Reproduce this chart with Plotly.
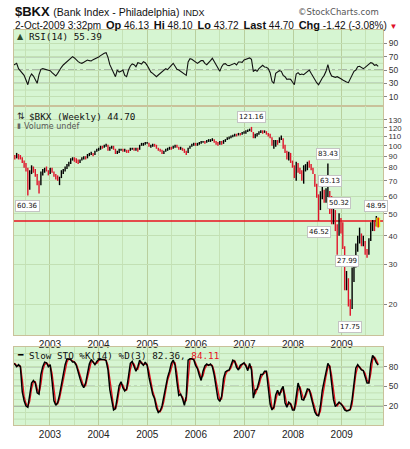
import math
import plotly.graph_objects as go
import pandas as pd

# ---------------- data (biweekly) ----------------
dates = pd.date_range(end="2009-10-02", periods=197, freq="14D")

price_close = [
    90, 89, 91, 90, 89, 85, 83, 80, 66, 76,
    80, 77, 75, 69, 67, 75, 77, 79, 78, 76,
    79, 77, 74, 73, 72, 72, 76, 78, 80, 82,
    83, 87, 88, 87, 86, 85, 86, 88, 89, 88,
    91, 92, 92, 91, 94, 96, 97, 99, 98, 100,
    101, 96, 98, 99, 97, 93, 94, 96, 96, 95,
    96, 95, 94, 97, 97, 96, 97, 96, 100, 102,
    102, 103, 103, 100, 100, 101, 100, 98, 96, 95,
    93, 94, 96, 97, 98, 97, 99, 100, 99, 97,
    98, 96, 94, 93, 97, 99, 101, 102, 101, 102,
    103, 104, 104, 103, 105, 106, 106, 107, 104, 103,
    102, 104, 103, 105, 106, 108, 109, 110, 111, 112,
    111, 113, 112, 114, 115, 116, 117, 118, 117, 110,
    112, 113, 115, 116, 115, 116, 114, 111, 110, 101,
    103, 105, 103, 108, 109, 99, 95, 90, 92, 85,
    82, 74, 82, 78, 77, 72, 80, 80, 83, 82,
    80, 76, 68, 60, 54, 60, 64, 58, 62, 68,
    57, 50, 52, 44, 42, 46, 43, 36, 26, 27,
    20, 19, 27, 30, 35, 38, 39, 37, 38, 34,
    33, 38, 45, 46, 43, 48, 44.70]

price_high = [
    92, 91, 93, 92, 91, 89, 86, 84, 80, 78,
    82, 81, 79, 75, 70, 77, 79, 80, 81, 78,
    80, 80, 77, 75, 74, 73, 78, 79, 81, 83,
    85, 88, 89, 89, 88, 87, 87, 89, 90, 90,
    92, 93, 94, 93, 95, 97, 98, 100, 100, 101,
    102, 101, 99, 100, 100, 97, 95, 97, 97, 97,
    97, 96, 96, 98, 98, 98, 98, 98, 101, 103,
    103, 104, 104, 103, 101, 102, 102, 101, 98, 97,
    96, 95, 97, 98, 99, 99, 100, 101, 101, 99,
    99, 98, 97, 95, 98, 100, 102, 103, 103, 103,
    104, 105, 105, 105, 106, 107, 107, 108, 107, 105,
    104, 105, 105, 106, 107, 109, 110, 111, 112, 113,
    113, 114, 114, 115, 116, 117, 118, 119, 121.16, 115,
    113, 114, 116, 117, 117, 117, 116, 114, 113, 109,
    106, 106, 106, 109, 111, 108, 101, 95, 94, 93,
    86, 82, 85, 84, 80, 78, 82, 83, 85, 86,
    83, 80, 75, 68, 61, 63, 67, 64, 65, 83.43,
    63.13, 60, 56, 52, 45, 50.32, 48, 46, 36, 27.99,
    26, 21, 29, 32, 37, 40, 43.5, 41, 40, 38,
    35, 39, 46, 47, 47, 48.95, 48.10]

price_low = [
    88, 87, 88, 87, 87, 84, 80, 77, 60.36, 64,
    75, 76, 73, 67, 61.5, 67, 74, 76, 77, 74,
    75, 76, 73, 71, 70, 67, 72, 75, 77, 79,
    81, 83, 86, 85, 84, 83, 84, 86, 87, 87,
    88, 90, 91, 90, 91, 94, 95, 96, 97, 98,
    99, 95, 95, 97, 96, 92, 92, 93, 95, 94,
    94, 93, 93, 95, 96, 95, 95, 94, 96, 100,
    100, 101, 102, 99, 98, 99, 99, 97, 95, 94,
    92, 92, 94, 95, 96, 96, 97, 98, 98, 96,
    96, 95, 93, 91, 93, 97, 99, 100, 100, 100,
    101, 102, 103, 102, 103, 104, 104, 105, 103, 101,
    100, 101, 101, 102, 104, 106, 107, 108, 109, 110,
    110, 111, 111, 112, 113, 113, 115, 116, 115, 108,
    108, 110, 112, 114, 113, 114, 112, 110, 108, 100,
    97, 99, 101, 103, 106, 97, 93, 87, 86, 84,
    80, 72, 70, 76, 75, 70, 68, 77, 78, 80,
    78, 75, 66, 59, 46.52, 52, 58, 56, 56, 58,
    50, 45, 45, 42, 33, 40, 41, 35, 23, 23,
    19.5, 17.75, 19, 25, 29, 34, 37, 36, 36, 33,
    32, 33, 38, 42, 42, 44, 43.72]

rsi = [
    57, 58, 60, 52, 49, 46, 42, 35, 28, 39,
    44, 41, 35, 30, 43, 51, 52, 51, 50, 50,
    49, 46, 43, 41, 45, 50, 54, 57.5, 60, 62.5,
    65, 68, 70, 68, 65, 62.5, 61, 60, 61.5, 63,
    65, 64, 63.5, 65.5, 66.5, 67.5, 69.5, 71.5, 74, 75,
    76, 69, 58, 52, 46, 40, 50, 47, 48, 50,
    42, 40, 50, 56, 59, 58, 55, 61, 60, 59,
    62.5, 61, 57, 52, 47, 45, 43, 40, 42.5, 45,
    48, 51, 52, 50.5, 53, 57, 60, 55, 51, 50,
    48, 46, 43, 42, 62, 67, 66, 63.5, 61.5, 60,
    62, 64, 64, 60, 58, 60.5, 64, 67.5, 62, 56.5,
    52, 48, 55, 59, 59.5, 57, 56.5, 57.5, 59.5, 60,
    57.5, 62, 62, 61.5, 65, 66, 67.5, 68, 66, 48,
    50, 48, 52, 55, 57, 54.5, 54, 52, 46, 33,
    30, 45, 47, 49, 48, 42, 40, 36, 36.5, 36,
    32, 28, 44, 46, 43, 44, 43, 45, 48, 50,
    45, 40, 35, 31, 28, 34, 38, 42, 48, 58,
    47, 41, 40, 39, 40, 39, 37, 35, 33, 32,
    31, 37, 44, 48, 50, 55, 55.5, 54, 52, 54,
    56, 59, 61, 60, 57, 58, 55.39]

sto_k = [
    85, 84, 80, 83, 80, 42, 28, 20, 18, 37,
    55, 59, 55, 40, 38, 68, 80, 87, 86, 80,
    83, 58, 28, 21, 25, 37, 53, 70, 83, 92,
    92, 91, 87, 87, 82, 70, 62, 53, 48, 55,
    69, 84, 91, 86, 83, 88, 91, 91, 91, 91,
    89, 75, 45, 27, 14, 16, 35, 51, 57, 48,
    43, 46, 65, 85, 88, 81, 73, 80, 90, 85,
    82, 87, 82, 64, 48, 38, 31, 17, 10, 12.5,
    20, 35, 55, 64, 73, 85, 90, 82, 57, 36,
    38, 31, 21, 35, 90, 92, 92, 91, 82, 77,
    67, 59, 73, 81, 84, 82, 84, 80, 67, 48,
    31, 27, 35, 62, 72, 74, 75, 82, 90, 88,
    79, 75, 82, 84, 86, 81, 74, 85, 75, 32,
    44, 46, 56, 68, 68, 73, 73, 50, 23, 14,
    18, 37, 44, 36, 45, 50, 25, 18, 26, 23,
    14, 14, 32, 55, 46, 30, 29, 39, 46, 45,
    33, 21, 11, 6, 5, 20, 44, 58, 72, 85,
    80, 55, 30, 19, 22, 26, 23, 19.5, 14, 12.5,
    13, 15, 30, 58, 78, 83, 78, 75, 74, 66,
    55, 55, 84, 97, 93, 86, 82.36]

sto_d = [
    84, 85, 82, 81, 81, 61, 35, 24, 19, 27,
    46, 57, 57, 47, 39, 53, 74, 83, 86, 83,
    81, 70, 43, 24, 23, 31, 45, 61, 76, 87,
    92, 91, 89, 87, 84, 76, 66, 57, 50, 51,
    62, 76, 87, 88, 84, 85, 89, 91, 91, 91,
    90, 82, 60, 36, 20, 15, 25, 43, 54, 52,
    45, 44, 55, 75, 86, 84, 77, 76, 85, 87,
    83, 84, 84, 73, 56, 43, 34, 24, 13, 11,
    16, 27, 45, 59, 68, 79, 87, 86, 70, 46,
    37, 34, 26, 28, 62, 91, 92, 91, 86, 80,
    72, 63, 66, 77, 82, 83, 83, 82, 73, 57,
    40, 29, 31, 48, 67, 73, 74, 78, 86, 89,
    83, 77, 78, 83, 85, 83, 77, 79, 80, 53,
    38, 45, 51, 62, 68, 70, 73, 61, 36, 18,
    16, 27, 40, 40, 41, 47, 37, 21, 22, 24,
    18, 14, 23, 43, 50, 38, 30, 34, 42, 45,
    39, 27, 16, 8, 5.5, 12, 32, 51, 65, 78,
    82, 67, 42, 24, 20, 24, 24, 21, 17, 13,
    13, 14, 22, 44, 68, 80, 80, 76, 74, 70,
    60, 55, 69, 90, 95, 90, 84.11]

swing_points = [(8, "low"), (128, "high"), (164, "low"), (169, "high"),
                (170, "high"), (175, "high"), (179, "high"), (181, "low"),
                (195, "high")]
support_level = 46.52

price_ticks = [20, 30, 40, 50, 60, 70, 80, 90, 100, 110, 120, 130]
rsi_ticks = [10, 30, 50, 70, 90]
rsi_grid = [20, 40, 60, 80]
sto_ticks = [20, 50, 80]
sto_grid = [0, 10, 30, 40, 60, 70, 90, 100]

# ---------------- style ----------------
W, H = 410, 449
BG = "#d6f5d2"
GRID_YEAR = "#b9cf9e"
GRID_HALF = "#c5e2b6"
GRID_H = "#c2e0b4"
BORDER = "#c9c19a"
UP = "#000000"
DOWN = "#e0142a"
X_RANGE = ["2002-04-06", "2009-11-07"]
XD = [14 / W, 383 / W]


def ydom(top_px, bot_px):
    return [1 - bot_px / H, 1 - top_px / H]


def px_x(v):
    return v / W


def px_y(v):
    return 1 - v / H


fig = go.Figure()

for yref, vals in [("y", rsi_grid), ("y3", sto_grid)]:
    xr = "x domain" if yref == "y" else "x3 domain"
    for v in vals:
        fig.add_shape(type="line", xref=xr, yref=yref, x0=0, x1=1, y0=v, y1=v,
                      line=dict(color=GRID_H, width=1), layer="below")

for yref, lvl, dash in [("y", 70, "solid"), ("y", 30, "solid"), ("y", 50, "dashdot"),
                        ("y3", 80, "solid"), ("y3", 20, "solid"), ("y3", 50, "dashdot")]:
    xr = "x domain" if yref == "y" else "x3 domain"
    fig.add_shape(type="line", xref=xr, yref=yref, x0=0, x1=1, y0=lvl, y1=lvl,
                  line=dict(color="#7d7d7d", width=1.2, dash=dash), layer="below")

# ---- RSI panel ----
fig.add_trace(go.Scatter(x=dates, y=rsi, mode="lines",
                         line=dict(color="#111111", width=1.1),
                         xaxis="x", yaxis="y", hoverinfo="skip"))

# ---- price panel ----
up_x, up_y, dn_x, dn_y = [], [], [], []
for i in range(len(dates)):
    up = i == 0 or price_close[i] >= price_close[i - 1]
    bx, by = (up_x, up_y) if up else (dn_x, dn_y)
    bx += [dates[i], dates[i], None]
    by += [price_low[i], price_high[i], None]

fig.add_trace(go.Scatter(x=[X_RANGE[0], X_RANGE[1]], y=[support_level, support_level],
                         mode="lines", line=dict(color="#e8101e", width=1.3),
                         xaxis="x2", yaxis="y2", hoverinfo="skip"))
fig.add_trace(go.Scatter(x=dn_x, y=dn_y, mode="lines", line=dict(color=DOWN, width=1.4),
                         xaxis="x2", yaxis="y2", hoverinfo="skip", connectgaps=False))
fig.add_trace(go.Scatter(x=up_x, y=up_y, mode="lines", line=dict(color=UP, width=1.4),
                         xaxis="x2", yaxis="y2", hoverinfo="skip", connectgaps=False))
last = len(dates) - 1
fig.add_trace(go.Scatter(x=[dates[last], dates[last]], y=[price_low[last], price_high[last]],
                         mode="lines", line=dict(color="#f5e400", width=4),
                         xaxis="x2", yaxis="y2", hoverinfo="skip"))
fig.add_trace(go.Scatter(x=[dates[last], dates[last]], y=[price_low[last], price_high[last]],
                         mode="lines", line=dict(color=DOWN, width=1.4),
                         xaxis="x2", yaxis="y2", hoverinfo="skip"))

# ---- stochastic panel ----
fig.add_trace(go.Scatter(x=dates, y=sto_d, mode="lines", line=dict(color="#e8101e", width=1.3),
                         xaxis="x3", yaxis="y3", hoverinfo="skip"))
fig.add_trace(go.Scatter(x=dates, y=sto_k, mode="lines", line=dict(color="#000000", width=1.5),
                         xaxis="x3", yaxis="y3", hoverinfo="skip"))

common_x = dict(type="date", range=X_RANGE, domain=XD, tick0="2003-01-01", dtick="M12",
                tickformat="%Y", showgrid=True, gridcolor=GRID_YEAR, gridwidth=1,
                minor=dict(tick0="2002-07-01", dtick="M6", showgrid=True,
                           gridcolor=GRID_HALF, gridwidth=1),
                showline=True, linecolor=BORDER, linewidth=1, mirror=True,
                ticks="", zeroline=False,
                tickfont=dict(family="Liberation Sans", size=10, color="#222222"))

common_y = dict(side="right", showline=True, linecolor=BORDER, linewidth=1, mirror=True,
                ticks="outside", ticklen=3, tickcolor="#888888", zeroline=False,
                showgrid=True, gridcolor=GRID_H, gridwidth=1,
                tickfont=dict(family="Liberation Sans", size=8.5, color="#333333"))

fig.update_layout(
    width=W, height=H, autosize=False,
    margin=dict(l=0, r=0, t=0, b=0),
    paper_bgcolor="white", plot_bgcolor=BG, showlegend=False,
    font=dict(family="Liberation Sans", size=10, color="#222222"),
    xaxis=dict(common_x, anchor="y", showticklabels=False),
    xaxis2=dict(common_x, anchor="y2", showticklabels=True, matches="x"),
    xaxis3=dict(common_x, anchor="y3", showticklabels=True, matches="x"),
    yaxis=dict(common_y, anchor="x", domain=ydom(30, 106), range=[-3.9, 109.9],
               tickmode="array", tickvals=rsi_ticks, ticktext=[str(v) for v in rsi_ticks]),
    yaxis2=dict(common_y, anchor="x2", domain=ydom(106, 335), type="log",
                range=[1.1642, 2.1757], tickmode="array", tickvals=price_ticks,
                ticktext=[str(v) for v in price_ticks],
                tickfont=dict(family="Liberation Sans", size=7.8, color="#333333")),
    yaxis3=dict(common_y, anchor="x3", domain=ydom(347, 425), range=[-9, 110],
                tickmode="array", tickvals=sto_ticks, ticktext=[str(v) for v in sto_ticks]),
)

for idx, kind in swing_points:
    val = price_high[idx] if kind == "high" else price_low[idx]
    fig.add_annotation(x=dates[idx], y=math.log10(val), xref="x2", yref="y2",
                       text=f"{val:.2f}", showarrow=False,
                       yshift=10 if kind == "high" else -11,
                       font=dict(family="DejaVu Sans", size=7, color="#111111"),
                       bgcolor="white", bordercolor="#c4c4c4", borderwidth=1, borderpad=1)

fig.add_annotation(xref="paper", yref="paper", x=px_x(13), y=px_y(12), xanchor="left",
                   yanchor="middle", showarrow=False,
                   text="<b>$BKX</b> <span style='font-size:10.5px'>(Bank Index - Philadelphia)</span>"
                        " <span style='font-size:9px'>INDX</span>",
                   font=dict(family="Liberation Sans", size=13, color="#111111"))
fig.add_annotation(xref="paper", yref="paper", x=px_x(381), y=px_y(12), xanchor="right",
                   yanchor="middle", showarrow=False, text="©StockCharts.com",
                   font=dict(family="DejaVu Sans", size=8.5, color="#555555"))
B = "<span style='font-size:11px'><b>%s</b></span>"
G = " \u2009"
line2 = ("2-Oct-2009 3:32pm" + G + B % "Op" + " 46.13" + G + B % "Hi" + " 48.10" + G +
         B % "Lo" + " 43.72" + G + B % "Last" + " 44.70" + G + B % "Chg" +
         " -1.42 (-3.08%) <span style='color:#e0102a;font-size:8px'>▼</span>")
fig.add_annotation(xref="paper", yref="paper", x=px_x(13), y=px_y(25), xanchor="left",
                   yanchor="middle", showarrow=False, text=line2,
                   font=dict(family="Liberation Sans", size=10, color="#111111"))

MONO = "DejaVu Sans Mono"
panel_labels = [
    (15, 37, "▲", "DejaVu Sans", 8, "#2d4a2d"),
    (27, 37, "RSI(14) 55.39", MONO, 9.3, "#111111"),
    (15, 116, "⇅", "DejaVu Sans", 9, "#222222"),
    (27, 116, "$BKX (Weekly) 44.70", MONO, 9.3, "#111111"),
    (15, 126, "▮", "DejaVu Sans", 7, "#666666"),
    (22, 126, "Volume undef", "DejaVu Sans", 8, "#555555"),
    (15, 355, "━", MONO, 9, "#000000"),
    (27, 355, "Slow STO %K(14) %D(3) 82.36, <span style='color:#e8101e'>84.11</span>",
     MONO, 9.3, "#111111"),
]
for xp, yp, txt, fam, sz, col in panel_labels:
    fig.add_annotation(xref="paper", yref="paper", x=px_x(xp), y=px_y(yp), xanchor="left",
                       yanchor="middle", showarrow=False, text=txt,
                       font=dict(family=fam, size=sz, color=col))

fig.write_html("out.html", config={"displayModeBar": False},
               post_script="document.body.style.margin='0';document.body.style.padding='0';")
